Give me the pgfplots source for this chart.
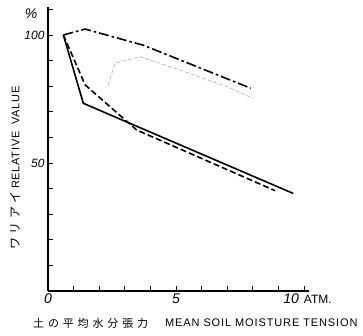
\documentclass[border=0pt]{standalone}
\usepackage{pgfplots}
\pgfplotsset{compat=1.18}
\usepackage{fontspec}
\setmainfont{Liberation Sans}
\newfontfamily\cjk{Noto Sans CJK JP}
\begin{document}
\begin{tikzpicture}
\useasboundingbox (-48pt,-45pt) rectangle (315pt,291pt);
\begin{axis}[
  at={(0,0)}, anchor=south west,
  scale only axis, width=261.1pt, height=284.2pt,
  xmin=0, xmax=10.2, ymin=0, ymax=111,
  axis lines=left, axis line style={-, line width=1.3pt},
  clip=false,
  tick align=inside, major tick length=5pt,
  tick style={line width=0.9pt, black},
  xtick={0,1,...,10},
  xticklabels={0,,,,,5,,,,,{\llap{\textit{10}\hspace{5pt}}\rlap{\upshape\fontsize{12}{14}\selectfont ATM.}}},
  ytick={0,10,...,110},
  yticklabels={,,,,,50,,,,,100,},
  xticklabel style={font=\fontsize{14}{16}\selectfont\itshape, yshift=1pt},
  yticklabel style={font=\fontsize{12}{14}\selectfont\itshape},
  /pgf/number format/assume math mode=true,
]
\addplot[black, line width=1.6pt] coordinates {(0.6,100) (1.38,73.3) (9.58,38.1)};
\addplot[black, line width=1.6pt, dash pattern=on 6pt off 3pt] coordinates {(0.6,100) (1.45,80.5) (3.46,62.9) (8.87,39.2)};
\addplot[black, line width=1.6pt, dash pattern=on 10pt off 3pt on 2.5pt off 3pt] coordinates {(0.6,100) (1.45,102.3) (3.72,96) (7.92,79.2)};
\addplot[black!35, line width=0.5pt, dash pattern=on 4pt off 2pt] coordinates {(2.35,80.5) (2.62,89) (3.6,91.5) (5.16,86.3) (6.98,79.8) (8.02,75.2)};
\node at (axis cs:-0.66,108.5) {\fontsize{14}{14}\selectfont\itshape\%};
\node[rotate=90] at (axis cs:-1.29,48) {\fontsize{11}{12}\selectfont{\cjk\fontsize{12}{12}\selectfont\addfontfeature{LetterSpace=30}ワリアイ} \addfontfeature{LetterSpace=6}RELATIVE\ \ VALUE};
\node[anchor=west, inner sep=0pt] at (axis cs:-0.586,-12.5) {\cjk\fontsize{11}{12}\selectfont\addfontfeature{LetterSpace=35}土の平均水分張力};
\node[anchor=west, inner sep=0pt] at (axis cs:4.57,-12.5) {\fontsize{11}{12}\selectfont\addfontfeature{LetterSpace=8}MEAN SOIL MOISTURE TENSION};
\end{axis}
\end{tikzpicture}
\end{document}
